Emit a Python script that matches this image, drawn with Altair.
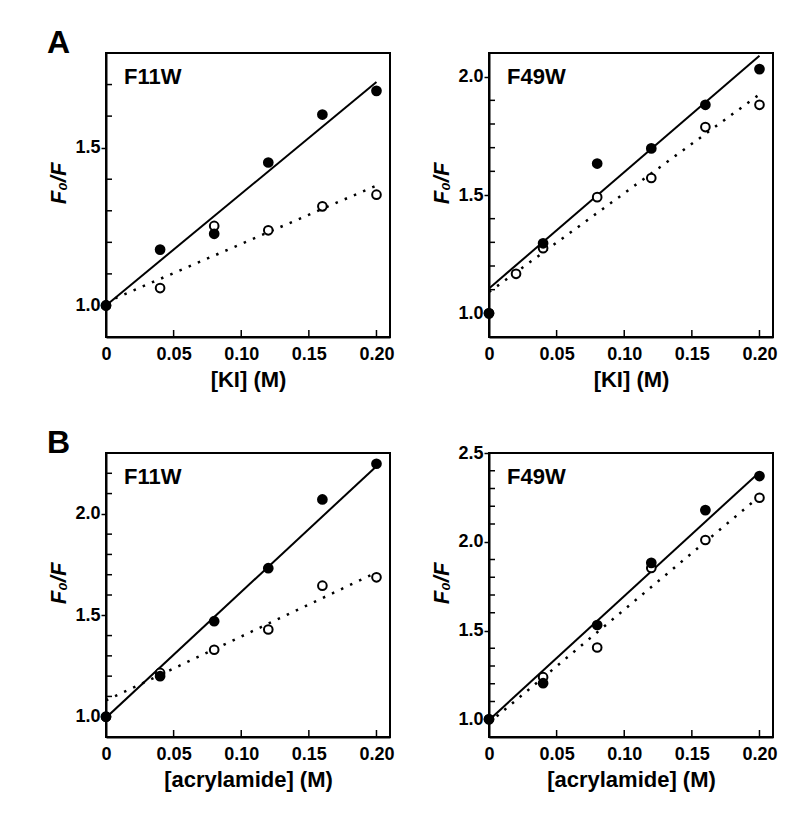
import altair as alt
import pandas as pd

# ---------------- data ----------------
conc = [0.0, 0.04, 0.08, 0.12, 0.16, 0.20]
conc_open_f49w_ki = [0.0, 0.02, 0.04, 0.08, 0.12, 0.16, 0.20]
fit_x = [0.0, 0.20]

ki_f11w_filled = [1.0, 1.177, 1.227, 1.453, 1.605, 1.680]
ki_f11w_open = [1.0, 1.055, 1.252, 1.238, 1.314, 1.351]
ki_f11w_fit_filled = [1.0, 1.708]
ki_f11w_fit_open = [1.01, 1.38]

ki_f49w_filled = [1.0, 1.296, 1.633, 1.697, 1.881, 2.032]
ki_f49w_open = [1.0, 1.167, 1.275, 1.491, 1.572, 1.787, 1.881]
ki_f49w_fit_filled = [1.105, 2.088]
ki_f49w_fit_open = [1.09, 1.925]

acr_f11w_filled = [1.0, 1.200, 1.471, 1.732, 2.071, 2.247]
acr_f11w_open = [1.0, 1.216, 1.330, 1.430, 1.646, 1.687]
acr_f11w_fit_filled = [0.995, 2.235]
acr_f11w_fit_open = [1.08, 1.711]

acr_f49w_filled = [1.0, 1.203, 1.531, 1.881, 2.178, 2.370]
acr_f49w_open = [1.0, 1.237, 1.404, 1.852, 2.010, 2.248]
acr_f49w_fit_filled = [0.995, 2.392]
acr_f49w_fit_open = [0.98, 2.255]

x_domain = [0.0, 0.21]
x_ticks = [0.0, 0.05, 0.10, 0.15, 0.20]
x_minor = [0.05, 0.10, 0.15, 0.20]

y_dom_a1 = [0.9, 1.8]
y_major_a1 = [1.0, 1.5]
y_minor_a1 = [1.1, 1.2, 1.3, 1.4, 1.6, 1.7]

y_dom_a2 = [0.9, 2.1]
y_major_a2 = [1.0, 1.5, 2.0]
y_minor_a2 = [1.1, 1.2, 1.3, 1.4, 1.6, 1.7, 1.8, 1.9]

y_dom_b1 = [0.9, 2.3]
y_major_b1 = [1.0, 1.5, 2.0]
y_minor_b1 = [1.1, 1.2, 1.3, 1.4, 1.6, 1.7, 1.8, 1.9, 2.1, 2.2]

y_dom_b2 = [0.9, 2.5]
y_major_b2 = [1.0, 1.5, 2.0, 2.5]
y_minor_b2 = [1.1, 1.2, 1.3, 1.4, 1.6, 1.7, 1.8, 1.9, 2.1, 2.2, 2.3, 2.4]

FONT = "Liberation Sans"
W = 284
H = 284


def panel(xtitle, fx, fy, ox, oy, fitf, fito, ydom, ymajor, yminor, label, letter=None):
    pts_f = pd.DataFrame({"x": fx, "y": fy})
    pts_o = pd.DataFrame({"x": ox, "y": oy})
    fit = pd.DataFrame({"x": fit_x, "yf": fitf, "yo": fito})
    xt = pd.DataFrame({"x": x_minor})
    yt = pd.DataFrame({"y": yminor})
    xs = alt.Scale(domain=x_domain, nice=False, zero=False)
    ys = alt.Scale(domain=ydom, nice=False, zero=False)

    x_axis = alt.Axis(
        orient="bottom", values=x_ticks, ticks=False, tickSize=0,
        labelExpr="datum.value == 0 ? '0' : format(datum.value, '.2f')",
        labelPadding=8, labelFont=FONT, labelFontSize=18, labelFontWeight="bold",
        labelColor="black", labelFlush=False, labelOverlap=False,
        domain=True, domainColor="black", domainWidth=2, grid=False,
        title=xtitle, titleFont=FONT, titleFontSize=22, titleFontWeight="bold",
        titleColor="black", titlePadding=6,
    )
    y_axis = alt.Axis(
        orient="left", values=ymajor, format=".1f", tickSize=5, tickWidth=1.5,
        tickColor="black", labelPadding=1, labelFont=FONT, labelFontSize=18,
        labelFontWeight="bold", labelColor="black", labelOverlap=False,
        domain=True, domainColor="black", domainWidth=2, grid=False,
        title="F\u2080/F", titleFont=FONT, titleFontSize=22, titleFontWeight="bold",
        titleFontStyle="italic", titleColor="black", titlePadding=4, titleY=130,
    )

    def X(field):
        return alt.X(f"{field}:Q", scale=xs, axis=x_axis)

    def Y(field):
        return alt.Y(f"{field}:Q", scale=ys, axis=y_axis)

    line_f = alt.Chart(fit).mark_line(color="black", strokeWidth=2, clip=True).encode(
        x=X("x"), y=Y("yf"),
    )
    line_o = alt.Chart(fit).mark_line(
        color="black", strokeWidth=2.5, strokeDash=[2.5, 7.5], clip=True
    ).encode(x=X("x"), y=Y("yo"))
    open_pts = alt.Chart(pts_o).mark_point(
        shape="circle", filled=True, fill="white", stroke="black", strokeWidth=2,
        size=75, opacity=1,
    ).encode(x=X("x"), y=Y("y"))
    filled_pts = alt.Chart(pts_f).mark_point(
        shape="circle", filled=True, color="black", size=115, opacity=1,
    ).encode(x=X("x"), y=Y("y"))

    # inward minor ticks, positioned by the shared scales
    xtick = alt.Chart(xt).mark_tick(
        color="black", thickness=1.5, size=7, orient="vertical", opacity=1,
    ).encode(x=X("x"), y=alt.value(H - 3.5))
    ytick = alt.Chart(yt).mark_tick(
        color="black", thickness=1.5, size=6, orient="horizontal", opacity=1,
    ).encode(y=Y("y"), x=alt.value(3))

    lab = alt.Chart(pd.DataFrame({"t": [label]})).mark_text(
        align="left", baseline="alphabetic", font=FONT, fontSize=22,
        fontWeight="bold", color="black",
    ).encode(x=alt.value(18), y=alt.value(31), text="t:N")

    layers = [line_f, line_o, open_pts, filled_pts, xtick, ytick, lab]
    if letter is not None:
        let = alt.Chart(pd.DataFrame({"t": [letter]})).mark_text(
            align="left", baseline="alphabetic", font=FONT, fontSize=32,
            fontWeight="bold", color="black",
        ).encode(x=alt.value(-59), y=alt.value(0), text="t:N")
        layers.append(let)

    return alt.layer(*layers).properties(width=W, height=H)


a1 = panel("[KI] (M)", conc, ki_f11w_filled, conc, ki_f11w_open,
           ki_f11w_fit_filled, ki_f11w_fit_open, y_dom_a1, y_major_a1, y_minor_a1,
           "F11W", "A")
a2 = panel("[KI] (M)", conc, ki_f49w_filled, conc_open_f49w_ki, ki_f49w_open,
           ki_f49w_fit_filled, ki_f49w_fit_open, y_dom_a2, y_major_a2, y_minor_a2,
           "F49W")
b1 = panel("[acrylamide] (M)", conc, acr_f11w_filled, conc, acr_f11w_open,
           acr_f11w_fit_filled, acr_f11w_fit_open, y_dom_b1, y_major_b1, y_minor_b1,
           "F11W", "B")
b2 = panel("[acrylamide] (M)", conc, acr_f49w_filled, conc, acr_f49w_open,
           acr_f49w_fit_filled, acr_f49w_fit_open, y_dom_b2, y_major_b2, y_minor_b2,
           "F49W")

chart = alt.concat(
    a1, a2, b1, b2, columns=2,
    spacing=alt.RowColnumber(row=116, column=99), bounds="flush",
).properties(
    padding={"left": 38, "top": 18, "right": 5, "bottom": 5},
    background="white",
).configure_view(stroke="black", strokeWidth=2)

chart.save("out.html", embed_options={"renderer": "svg", "actions": False})
